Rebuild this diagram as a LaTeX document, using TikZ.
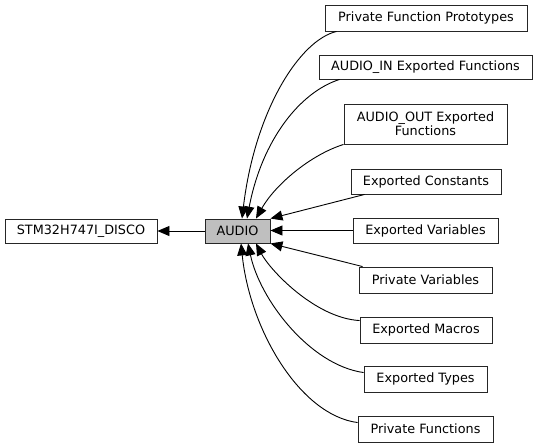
\documentclass[tikz,border=0pt]{standalone}
\usepackage{fontspec}
\setmainfont{DejaVu Sans}
\usetikzlibrary{arrows.meta}
\begin{document}
\begin{tikzpicture}[x=1pt,y=-1pt,
  grp/.style={draw=black!85,line width=0.9pt,fill=white,inner sep=0pt,font=\fontsize{12.8}{14}\selectfont,align=center},
  cur/.style={grp,fill=black!25},
  edge/.style={line width=0.9pt,draw=black,-{Triangle[length=12pt,width=10pt]}}]
\useasboundingbox (0,0) rectangle (539,447);
\node[grp,minimum width=152pt,minimum height=24pt] (disco) at (81,231) {STM32H747I\_DISCO};
\node[cur,minimum width=65pt,minimum height=24pt] (audio) at (237.5,231) {AUDIO};
\node[grp,minimum width=202pt,minimum height=26pt] (pfp) at (426,18) {Private Function Prototypes};
\node[grp,minimum width=213pt,minimum height=24pt] (ain) at (425.5,67) {AUDIO\_IN Exported Functions};
\node[grp,minimum width=163pt,minimum height=40pt] (aout) at (425.5,124) {AUDIO\_OUT Exported\\Functions};
\node[grp,minimum width=150pt,minimum height=25pt] (econst) at (426,181.5) {Exported Constants};
\node[grp,minimum width=145pt,minimum height=25pt] (evar) at (425.5,230.5) {Exported Variables};
\node[grp,minimum width=133pt,minimum height=26pt] (pvar) at (425.5,280) {Private Variables};
\node[grp,minimum width=132pt,minimum height=26pt] (emac) at (426,330) {Exported Macros};
\node[grp,minimum width=123pt,minimum height=26pt] (etypes) at (425.5,379) {Exported Types};
\node[grp,minimum width=135pt,minimum height=26pt] (pfun) at (425.5,429) {Private Functions};

\draw[edge] (audio.west) -- (disco.east);
\draw[edge] ([xshift=12pt]pfp.south west) .. controls (300,40) and (255,110) .. ([xshift=4.5pt]audio.north);
\draw[edge] ([xshift=21pt]ain.south west) .. controls (300,92) and (262,140) .. ([xshift=9.5pt]audio.north);
\draw[edge] (aout.south west) .. controls (310,155) and (275,185) .. ([xshift=18.5pt]audio.north);
\draw[edge] ([xshift=14pt]econst.south west) -- (audio.north east);
\draw[edge] (evar.west) -- ([yshift=0.5pt]audio.east);
\draw[edge] ([xshift=4pt]pvar.north west) -- (audio.south east);
\draw[edge] ([yshift=-4pt]emac.north west) .. controls (315,318) and (270,270) .. ([xshift=18.5pt]audio.south);
\draw[edge] ([yshift=-7pt]etypes.north west) .. controls (310,365) and (260,300) .. ([xshift=10.5pt]audio.south);
\draw[edge] ([yshift=-7pt]pfun.north west) .. controls (300,415) and (250,330) .. ([xshift=3.5pt]audio.south);
\end{tikzpicture}
\end{document}
